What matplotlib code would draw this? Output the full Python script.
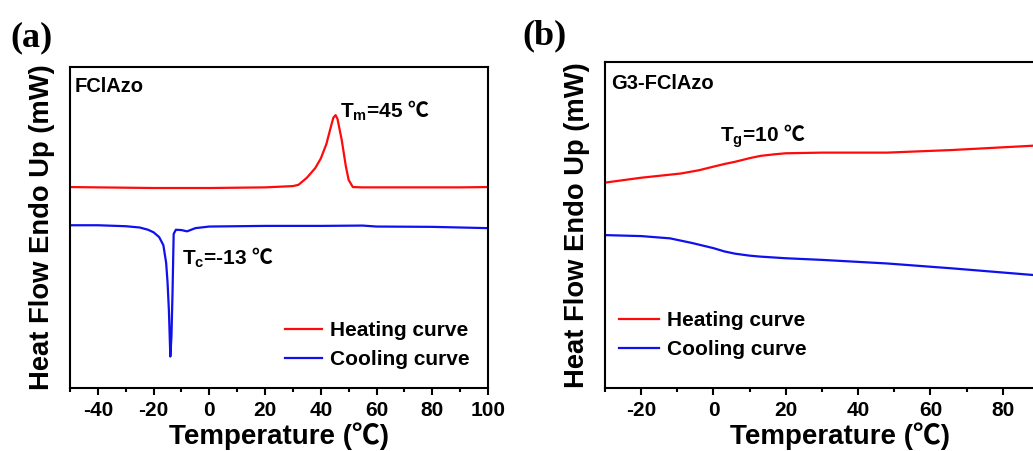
import matplotlib
matplotlib.use("Agg")
import matplotlib.pyplot as plt
from matplotlib.ticker import NullLocator, FixedLocator

plt.rcParams['font.family'] = ['Liberation Sans', 'Noto Sans CJK SC', 'DejaVu Sans']
plt.rcParams['font.weight'] = 'bold'
plt.rcParams['axes.unicode_minus'] = False
plt.rcParams['mathtext.fontset'] = 'custom'
plt.rcParams['mathtext.rm'] = 'Liberation Sans:bold'
plt.rcParams['mathtext.sf'] = 'Noto Sans CJK SC:bold'

# ---- Panel (a): FClAzo ----
a_heat_x = [-50, -40, -20, 0, 20, 30, 32, 35, 38, 40, 42, 43.5, 44.5, 45.3, 46, 47.5, 49, 50, 51.5, 55, 70, 90, 100]
a_heat_y = [6.26, 6.25, 6.23, 6.23, 6.25, 6.29, 6.33, 6.55, 6.85, 7.15, 7.60, 8.10, 8.42, 8.50, 8.38, 7.73, 6.90, 6.48, 6.26, 6.25, 6.25, 6.25, 6.26]
a_cool_x = [-50, -40, -30, -25, -22, -20, -18, -16.5, -15.5, -15, -14.5, -14, -13.6, -13.2, -12.8, -12, -10, -8, -5, 0, 20, 40, 55, 60, 80, 100]
a_cool_y = [5.07, 5.07, 5.04, 5.00, 4.93, 4.85, 4.70, 4.45, 3.90, 3.30, 2.40, 0.98, 1.60, 3.00, 4.80, 4.93, 4.92, 4.88, 4.98, 5.03, 5.05, 5.05, 5.06, 5.03, 5.02, 4.98]

# ---- Panel (b): G3-FClAzo ----
b_heat_x = [-30, -20, -9, -4, 0, 3, 6, 10, 13, 17, 20, 30, 48, 66, 88, 100]
b_heat_y = [6.30, 6.45, 6.58, 6.68, 6.79, 6.87, 6.94, 7.05, 7.12, 7.17, 7.20, 7.22, 7.22, 7.30, 7.43, 7.52]
b_cool_x = [-30, -20, -12, -6, -3, 0, 3, 6, 10, 13, 20, 30, 48, 66, 88, 100]
b_cool_y = [4.69, 4.66, 4.59, 4.45, 4.37, 4.29, 4.19, 4.12, 4.06, 4.03, 3.98, 3.93, 3.82, 3.67, 3.47, 3.37]

fig = plt.figure(figsize=(10.33, 4.51), dpi=100)

RED = '#ff0a0a'
BLUE = '#1010ee'

def style(ax, xmin, xmax, majors, minors):
    ax.set_xlim(xmin, xmax)
    ax.set_ylim(0, 10)
    ax.xaxis.set_major_locator(FixedLocator(majors))
    ax.xaxis.set_minor_locator(FixedLocator(minors))
    ax.yaxis.set_major_locator(NullLocator())
    ax.tick_params(axis='x', which='major', direction='out', length=5, width=1.5,
                   labelsize=15, pad=4)
    ax.tick_params(axis='x', which='minor', direction='out', length=3, width=1.5)
    for lab in ax.get_xticklabels():
        lab.set_fontweight('bold')
    for s in ax.spines.values():
        s.set_linewidth(1.5)
    ax.set_xlabel('Temperature (℃)', fontsize=20, fontweight='bold', labelpad=2)
    ax.set_ylabel('Heat Flow Endo Up (mW)', fontsize=19.7, fontweight='bold', labelpad=10.5)

ax1 = fig.add_axes([70/1033, 63/451, 418/1033, 321/451])
ax1.plot(a_heat_x, a_heat_y, color=RED, lw=1.6, label='Heating curve')
ax1.plot(a_cool_x, a_cool_y, color=BLUE, lw=1.6, label='Cooling curve')
style(ax1, -50, 100, [-40, -20, 0, 20, 40, 60, 80, 100], [-50, -30, -10, 10, 30, 50, 70, 90])
ax1.text(0.01, 0.94, 'FClAzo', transform=ax1.transAxes, fontsize=14.5, fontweight='bold', va='center', ha='left')
ax1.text(46.9, 8.65, r'T$_\mathregular{m}$=45 $\mathsf{℃}$', fontsize=15, fontweight='bold', va='center', ha='left')
ax1.text(-9.8, 4.05, r'T$_\mathregular{c}$=-13 $\mathsf{℃}$', fontsize=15, fontweight='bold', va='center', ha='left')
ax1.legend(loc='upper left', bbox_to_anchor=(277/1033, 1 - 313/451), bbox_transform=fig.transFigure,
           borderaxespad=0, frameon=False, handlelength=1.78, handletextpad=0.38, labelspacing=0.46,
           prop={'weight': 'bold', 'size': 15})

ax2 = fig.add_axes([605/1033, 63/451, 470/1033, 326/451])
ax2.plot(b_heat_x, b_heat_y, color=RED, lw=1.6, label='Heating curve')
ax2.plot(b_cool_x, b_cool_y, color=BLUE, lw=1.6, label='Cooling curve')
style(ax2, -30, 100, [-20, 0, 20, 40, 60, 80], [-30, -10, 10, 30, 50, 70])
ax2.text(0.012, 0.935, 'G3-FClAzo', transform=ax2.transAxes, fontsize=14.5, fontweight='bold', va='center', ha='left')
ax2.text(1.85, 7.74, r'T$_\mathregular{g}$=10 $\mathsf{℃}$', fontsize=15, fontweight='bold', va='center', ha='left')
ax2.legend(loc='upper left', bbox_to_anchor=(611/1033, 1 - 303/451), bbox_transform=fig.transFigure,
           borderaxespad=0, frameon=False, handlelength=1.9, handletextpad=0.38, labelspacing=0.46,
           prop={'weight': 'bold', 'size': 15})

fig.text(10/1033, 1 - 38/451, '(a)', fontsize=26, fontweight='bold', family='Liberation Serif', va='center', ha='left')
fig.text(522/1033, 1 - 36/451, '(b)', fontsize=26, fontweight='bold', family='Liberation Serif', va='center', ha='left')

fig.savefig('out.png', dpi=100)
